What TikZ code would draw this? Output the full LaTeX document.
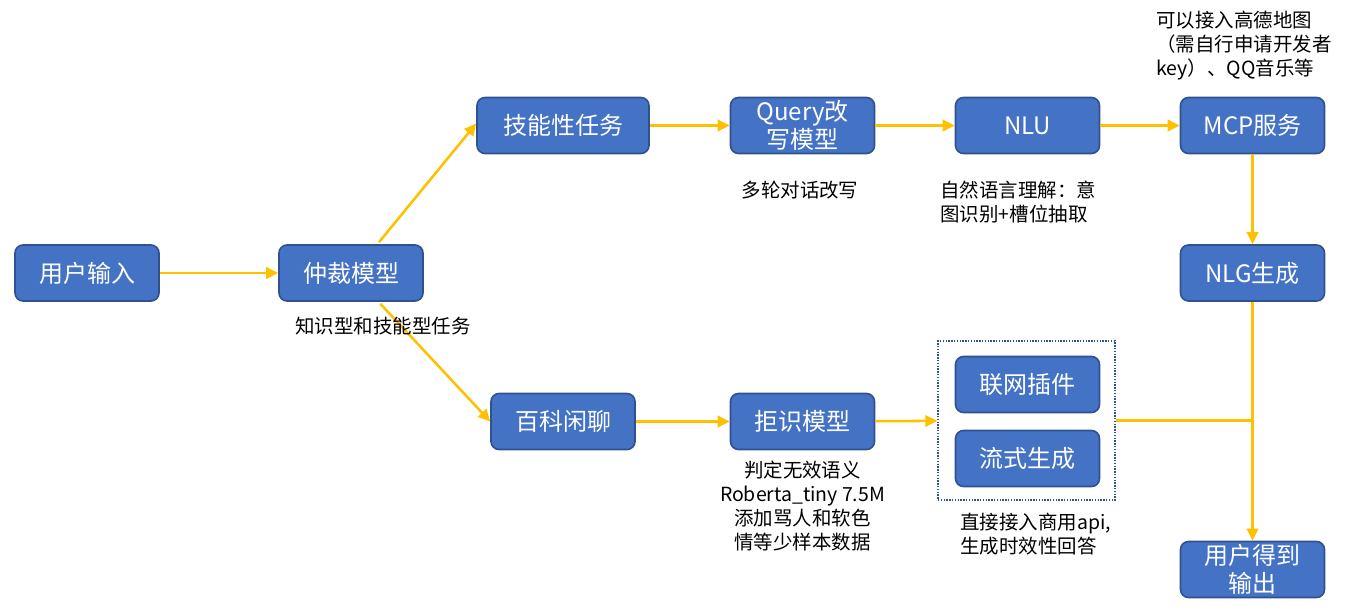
\documentclass[tikz,border=0pt]{standalone}
\usepackage{fontspec}
\setmainfont{Noto Sans CJK SC}
\usetikzlibrary{arrows.meta}
\definecolor{boxblue}{RGB}{68,114,196}
\definecolor{boxedge}{RGB}{47,82,143}
\definecolor{flowgold}{RGB}{255,192,0}
\tikzset{every picture/.style={line width=0.75pt}}
\tikzset{
  modbox/.style={draw=boxedge, fill=boxblue, line width=1.2pt, rounded corners=6pt, text=white,
    minimum width=108pt, minimum height=42pt, align=center, inner sep=1pt,
    font=\fontsize{18}{21}\selectfont},
  flowline/.style={draw=flowgold, line width=1.9pt},
  flow/.style={flowline, -{Triangle[length=9pt,width=8.5pt]}},
  note/.style={inner sep=0pt, align=center, font=\fontsize{14.6}{18}\selectfont},
}

\begin{document}
\begin{tikzpicture}[x=0.75pt,y=0.75pt,yscale=-1,xscale=1]
\useasboundingbox (0,0) rectangle (1359,610);

% Boxes
\node[modbox] (usr) at (87,273) {用户输入};
\node[modbox] (zc) at (351,273) {仲裁模型};
\node[modbox, minimum width=129pt] (jn) at (563,125.5) {技能性任务};
\node[modbox] (bk) at (563,421.5) {百科闲聊};
\node[modbox] (qr) at (802.5,125.5) {Query改\\写模型};
\node[modbox] (jsh) at (802.5,421.5) {拒识模型};
\node[modbox] (nlu) at (1027.5,125.5) {NLU};
\node[modbox] (mcp) at (1252.5,125.5) {MCP服务};
\node[modbox] (nlg) at (1252.5,273) {NLG生成};
\node[modbox] (lw) at (1027.5,384.5) {联网插件};
\node[modbox] (ls) at (1027.5,458.5) {流式生成};
\node[modbox] (out) at (1252.5,569.5) {用户得到\\输出};
% Dotted group
\node[draw=boxedge, densely dotted, line width=1.1pt, minimum width=132.75pt, minimum height=119.25pt, inner sep=0pt] (hub) at (1026.5,420.5) {};

% Arrows
\draw[flow] (usr) -- (zc);
\draw[flow] ([xshift=21pt,yshift=-1.5pt]zc.north) -- ([yshift=-1.5pt]jn.west);
\draw[flow] ([xshift=22pt,yshift=1.5pt]zc.south) -- (bk.west);
\draw[flow] (jn) -- (qr);
\draw[flow] (qr) -- (nlu);
\draw[flow] (nlu) -- (mcp);
\draw[flow] (mcp) -- (nlg);
\draw[flow] (bk) -- (jsh);
\draw[flow] (jsh) -- (hub);
\coordinate (merge) at (nlg |- hub.east);
\draw[flowline] (hub.east) -- (merge);
\draw[flow] (nlg) -- (out);

% Text Nodes
\node[note] (zcnote) at (383,326) {知识型和技能型任务};
\node[note] (qrnote) at (800,190) {多轮对话改写};
\node[note, align=left, anchor=west] (nlunote) at (940,202) {自然语言理解：意\\图识别+槽位抽取};
\node[note] (jshnote) at (802.5,506) {判定无效语义\\Roberta\_tiny 7.5M\\添加骂人和软色\\情等少样本数据};
\node[note, align=left, anchor=west] (hubnote) at (960,534) {直接接入商用api,\\生成时效性回答};
\node[note, align=left, anchor=west] (mcpnote) at (1156,46) {可以接入高德地图\\（需自行申请开发者\\key）、QQ音乐等};

\end{tikzpicture}
\end{document}
